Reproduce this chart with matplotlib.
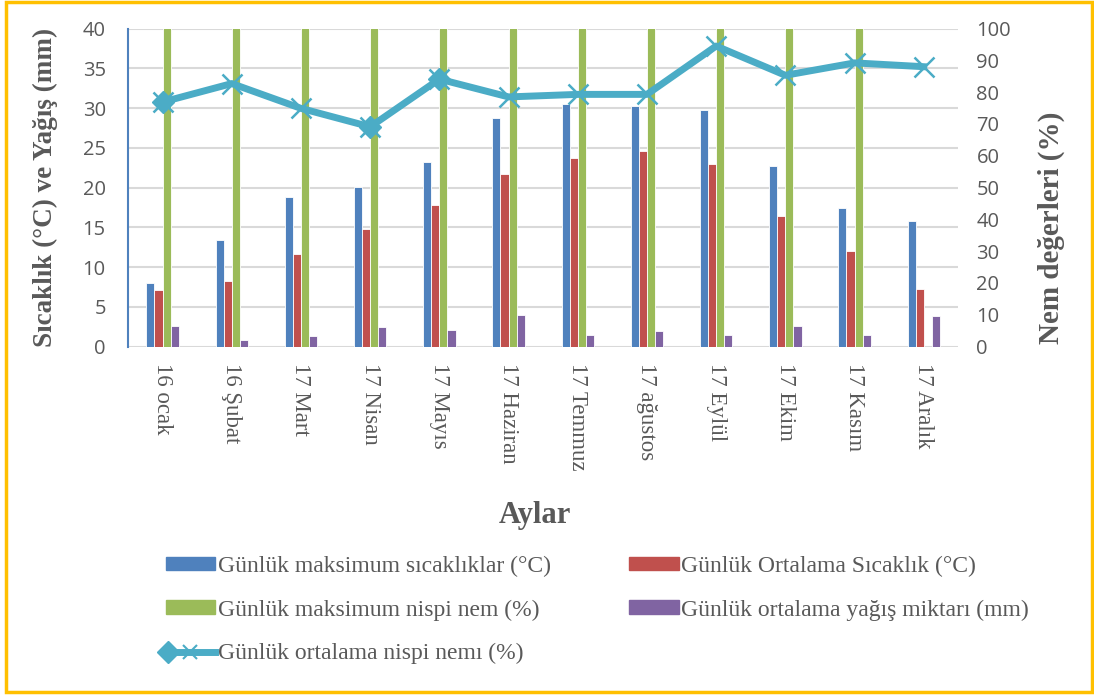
import matplotlib.pyplot as plt
import numpy as np
from matplotlib.patches import Rectangle
from matplotlib.lines import Line2D
from matplotlib.legend_handler import HandlerLine2D

months = ['16 ocak', '16 Şubat', '17 Mart', '17 Nisan', '17 Mayıs', '17 Haziran',
          '17 Temmuz', '17 ağustos', '17 Eylül', '17 Ekim', '17 Kasım', '17 Aralık']
max_temp = [8.0, 13.4, 18.8, 20.1, 23.2, 28.8, 30.5, 30.3, 29.7, 22.7, 17.4, 15.8]
mean_temp = [7.1, 8.2, 11.6, 14.8, 17.8, 21.7, 23.7, 24.6, 23.0, 16.4, 12.0, 7.3]
max_hum = [100, 100, 100, 100, 100, 100, 100, 100, 100, 100, 100, np.nan]
rain = [2.6, 0.8, 1.3, 2.5, 2.1, 4.0, 1.5, 1.9, 1.4, 2.6, 1.5, 3.8]
mean_hum = [76.9, 82.7, 74.9, 69.1, 84.1, 78.5, 79.3, 79.3, 94.5, 85.3, 89.2, 88.0]
diamond_idx = [0, 3, 4]

c_blue = '#4F81BD'
c_red = '#C0504D'
c_green = '#9BBB59'
c_purple = '#8064A2'
c_line = '#4BACC6'
grey = '#595959'
serif = 'Liberation Serif'


class DiamondLineHandler(HandlerLine2D):
    # excel-style legend: diamond on the left, x in the middle
    def create_artists(self, legend, orig_handle, xdescent, ydescent, width, height,
                       fontsize, trans):
        arts = super().create_artists(legend, orig_handle, xdescent, ydescent, width,
                                      height, fontsize, trans)
        d = Line2D([-xdescent + 0.05 * width], [(height - ydescent) / 2], marker='D',
                   markersize=11, color=c_line, linestyle='none', transform=trans)
        return list(arts) + [d]


fig = plt.figure(figsize=(10.94, 6.96), dpi=100)
ax = fig.add_axes([0.117, 0.502, 0.759, 0.457])
ax2 = ax.twinx()
ax.set_zorder(ax2.get_zorder() - 1)
ax.patch.set_visible(True)
ax2.patch.set_visible(False)

x = np.arange(len(months))
w = 0.117
series = [(max_temp, c_blue), (mean_temp, c_red), (max_hum, c_green), (rain, c_purple)]
for i, (vals, col) in enumerate(series):
    ax.bar(x + (i - 1.5) * w, vals, width=w, color=col, edgecolor='white', linewidth=0.6, zorder=3)

ax.set_ylim(0, 40)
ax.set_xlim(-0.5, len(months) - 0.5)
ax.set_yticks(np.arange(0, 41, 5))
ax.grid(axis='y', color='#D9D9D9', linewidth=1.5, zorder=0)
ax.set_axisbelow(True)
for s in ['top', 'right', 'bottom']:
    ax.spines[s].set_visible(False)
ax.spines['left'].set_color(c_blue)
ax.spines['left'].set_linewidth(1.5)
ax.tick_params(axis='y', length=0, labelsize=14.5, labelcolor=grey, pad=16)
ax.set_xticks(x)
ax.set_xticklabels(months, rotation=-90, fontfamily=serif, fontsize=16.5, color=grey)
ax.tick_params(axis='x', length=0, pad=12)
for lbl in ax.get_yticklabels():
    lbl.set_fontfamily('Open Sans')
ax.set_ylabel('Sıcaklık (°C) ve Yağış (mm)', fontfamily=serif, fontweight='bold',
              fontsize=19.5, color=grey)
ax.yaxis.set_label_coords(-0.084, 0.5)
ax.set_xlabel('Aylar', fontfamily=serif, fontweight='bold', fontsize=22, color=grey)
ax.xaxis.set_label_coords(0.49, -0.485)

ax2.plot(x, mean_hum, color=c_line, linewidth=5, marker='x', markersize=15,
         markeredgewidth=1.8, zorder=5)
ax2.plot(x[diamond_idx], np.array(mean_hum)[diamond_idx], linestyle='none', marker='D',
         markersize=11, color=c_line, zorder=6)
ax2.set_ylim(0, 100)
ax2.set_yticks(np.arange(0, 101, 10))
for s in ['top', 'right', 'bottom', 'left']:
    ax2.spines[s].set_visible(False)
ax2.tick_params(axis='y', length=0, labelsize=14.5, labelcolor=grey, pad=13)
for lbl in ax2.get_yticklabels():
    lbl.set_fontfamily('Open Sans')
ax2.set_ylabel('Nem değerleri (%)', fontfamily=serif, fontweight='bold', fontsize=21,
               color=grey)
ax2.yaxis.set_label_coords(1.096, 0.373)

line_handle = Line2D([], [], color=c_line, linewidth=5, marker='x', markersize=10,
                     markeredgewidth=1.5)
handles = [
    Rectangle((0, 0), 1, 1, color=c_blue),
    Rectangle((0, 0), 1, 1, color=c_green),
    line_handle,
    Rectangle((0, 0), 1, 1, color=c_red),
    Rectangle((0, 0), 1, 1, color=c_purple),
]
labels = [
    'Günlük maksimum sıcaklıklar (°C)',
    'Günlük maksimum nispi nem (%)',
    'Günlük ortalama nispi nemı (%)',
    'Günlük Ortalama Sıcaklık (°C)',
    'Günlük ortalama yağış miktarı (mm)',
]
leg = fig.legend(handles, labels, ncol=2, loc='upper left', bbox_to_anchor=(0.132, 0.232),
                 frameon=False, prop={'family': serif, 'size': 17}, labelcolor=grey,
                 handlelength=2.1, handleheight=0.5, handletextpad=0.12,
                 columnspacing=3.3, labelspacing=0.95,
                 handler_map={line_handle: DiamondLineHandler()})

fig.patches.append(Rectangle((6 / 1094, 4 / 696), 1086 / 1094, 690 / 696,
                             transform=fig.transFigure, fill=False,
                             edgecolor='#FFC000', linewidth=2.5))

fig.savefig('out.png', dpi=100)
